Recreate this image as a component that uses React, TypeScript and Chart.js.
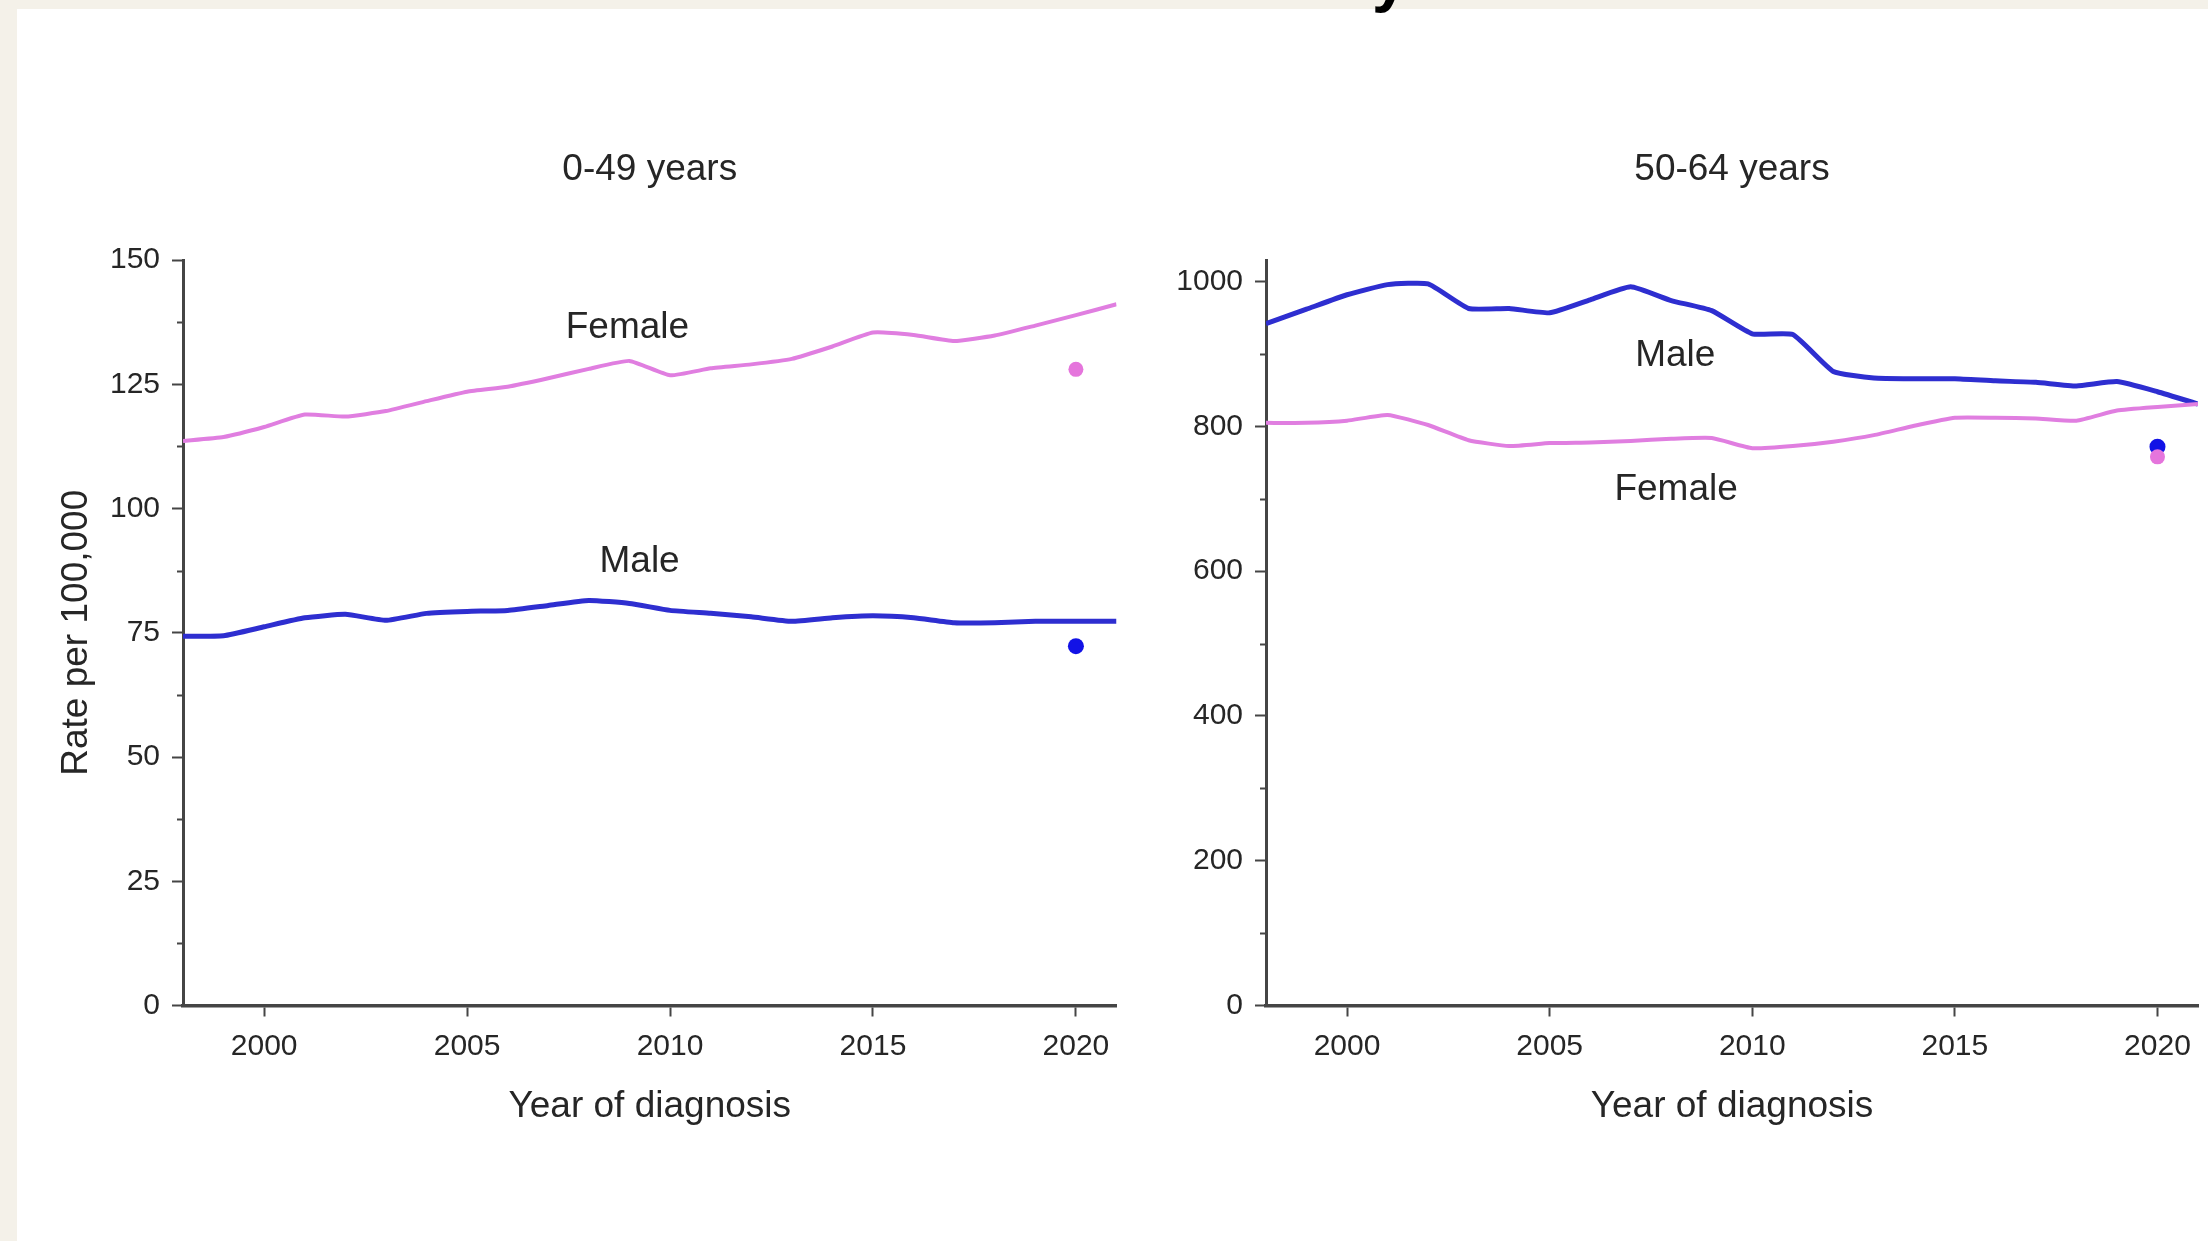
import React, { useEffect, useRef } from 'react';
import { Chart, registerables } from 'chart.js';

Chart.register(...registerables);

// ---------- data ----------
const years = [1998, 1999, 2000, 2001, 2002, 2003, 2004, 2005, 2006, 2007, 2008, 2009, 2010, 2011, 2012, 2013, 2014, 2015, 2016, 2017, 2018, 2019, 2020, 2021];

const female0to49 = [113.6, 114.4, 116.4, 118.9, 118.5, 119.6, 121.6, 123.5, 124.5, 126.2, 128.1, 129.7, 126.8, 128.2, 129.0, 130.1, 132.6, 135.4, 134.9, 133.7, 134.8, 136.8, 138.9, 141.1];
const male0to49 = [74.3, 74.4, 76.2, 78.0, 78.7, 77.5, 78.9, 79.3, 79.5, 80.5, 81.5, 80.9, 79.5, 78.9, 78.2, 77.3, 78.0, 78.4, 78.0, 77.0, 77.0, 77.3, 77.3, 77.3];

const female50to64 = [805, 805, 808, 816, 802, 781, 773, 777, 778, 780, 783, 784, 770, 773, 779, 788, 801, 812, 812, 811, 808, 822, 827, 831];
const male50to64 = [942, 962, 982, 996, 997, 963, 963, 957, 975, 993, 974, 960, 928, 927, 876, 867, 866, 866, 863, 861, 856, 862, 848, 831];

// observed 2020 values (dots)
const observedYear = 2020;
const female0to49Observed = 128.0;
const male0to49Observed = 72.3;
const female50to64Observed = 758;
const male50to64Observed = 772;

// ticks
const xTickValues = [2000, 2005, 2010, 2015, 2020];
const leftYTickValues = [0, 25, 50, 75, 100, 125, 150];
const leftYMinorTicks = [12.5, 37.5, 62.5, 87.5, 112.5, 137.5];
const rightYTickValues = [0, 200, 400, 600, 800, 1000];
const rightYMinorTicks = [100, 300, 500, 700, 900];

const panelTitles = ['0-49 years', '50-64 years'];
const xAxisTitle = 'Year of diagnosis';
const yAxisTitle = 'Rate per 100,000';

// in-chart series labels (anchored in data coordinates)
const leftSeriesLabels = [
  { text: 'Female', x: 2008.95, y: 136.4 },
  { text: 'Male', x: 2009.25, y: 89.3 },
];
const rightSeriesLabels = [
  { text: 'Male', x: 2008.1, y: 897.7 },
  { text: 'Female', x: 2008.12, y: 712 },
];

// ---------- styles ----------
const FONT = '"Liberation Sans", Arial, Helvetica, sans-serif';
const FEMALE_COLOR = '#e07ee0';
const FEMALE_DOT = '#e575dc';
const MALE_COLOR = '#2e2ed0';
const MALE_DOT = '#1212e6';
const AXIS_COLOR = '#454545';
const TEXT_COLOR = '#262626';

const overlayPlugin = {
  id: 'overlay',
  afterDatasetsDraw(chart: any, _args: any, opts: any) {
    const { ctx, chartArea } = chart;
    const x = chart.scales.x;
    const y = chart.scales.y;
    ctx.save();
    ctx.strokeStyle = AXIS_COLOR;
    ctx.lineWidth = 2;
    (opts.minorTicks || []).forEach((v: number) => {
      const py = Math.round(y.getPixelForValue(v)) + 0.5;
      ctx.beginPath();
      ctx.moveTo(chartArea.left - 6, py);
      ctx.lineTo(chartArea.left + 1, py);
      ctx.stroke();
    });
    ctx.fillStyle = TEXT_COLOR;
    ctx.font = `37px ${FONT}`;
    ctx.textAlign = 'center';
    ctx.textBaseline = 'middle';
    (opts.labels || []).forEach((l: any) => {
      ctx.fillText(l.text, x.getPixelForValue(l.x), y.getPixelForValue(l.y));
    });
    ctx.restore();
  },
};

function makeConfig(p: {
  title: string;
  female: number[];
  male: number[];
  femaleObs: number;
  maleObs: number;
  yMax: number;
  yTicks: number[];
  minor: number[];
  labels: any[];
  yAxisWidth: number;
  padRight: number;
  showYTitle: boolean;
}) {
  const lineData = (arr: number[]) => years.map((yr, i) => ({ x: yr, y: arr[i] }));
  return {
    type: 'line' as const,
    data: {
      datasets: [
        {
          label: 'Female',
          data: lineData(p.female),
          borderColor: FEMALE_COLOR,
          borderWidth: 4,
          pointRadius: 0,
          tension: 0.15,
          fill: false,
        },
        {
          label: 'Male',
          data: lineData(p.male),
          borderColor: MALE_COLOR,
          borderWidth: 5,
          pointRadius: 0,
          tension: 0.15,
          fill: false,
        },
        {
          label: 'Female observed 2020',
          data: [{ x: observedYear, y: p.femaleObs }],
          showLine: false,
          pointRadius: 7.5,
          pointBackgroundColor: FEMALE_DOT,
          pointBorderWidth: 0,
          borderColor: FEMALE_DOT,
        },
        {
          label: 'Male observed 2020',
          data: [{ x: observedYear, y: p.maleObs }],
          showLine: false,
          pointRadius: 8,
          pointBackgroundColor: MALE_DOT,
          pointBorderWidth: 0,
          borderColor: MALE_DOT,
        },
      ],
    },
    options: {
      animation: false as const,
      responsive: false,
      devicePixelRatio: 1,
      layout: { padding: { left: 0, right: p.padRight, top: 147.5, bottom: 0 } },
      plugins: {
        legend: { display: false },
        tooltip: { enabled: false },
        title: {
          display: true,
          text: p.title,
          fullSize: false,
          color: TEXT_COLOR,
          font: { family: FONT, size: 37, weight: 'normal' as const },
          padding: { top: 0, bottom: 68.1 },
        },
        overlay: { minorTicks: p.minor, labels: p.labels },
      },
      scales: {
        x: {
          type: 'linear' as const,
          min: 1998,
          max: 2021,
          afterBuildTicks: (axis: any) => {
            axis.ticks = xTickValues.map((v) => ({ value: v }));
          },
          afterFit: (s: any) => {
            s.height = 235.5;
          },
          grid: {
            drawOnChartArea: false,
            drawTicks: true,
            tickLength: 11,
            tickWidth: 2,
            tickColor: AXIS_COLOR,
          },
          border: { display: true, color: AXIS_COLOR, width: 3.5 },
          ticks: {
            color: TEXT_COLOR,
            font: { family: FONT, size: 30 },
            padding: 12,
            maxRotation: 0,
            autoSkip: false,
            callback: (v: any) => String(v),
          },
          title: {
            display: true,
            text: xAxisTitle,
            color: TEXT_COLOR,
            font: { family: FONT, size: 37 },
            padding: { top: 0, bottom: 112 },
          },
        },
        y: {
          type: 'linear' as const,
          min: 0,
          max: p.yMax,
          afterBuildTicks: (axis: any) => {
            axis.ticks = p.yTicks.map((v) => ({ value: v }));
          },
          afterFit: (s: any) => {
            s.width = p.yAxisWidth;
          },
          grid: {
            drawOnChartArea: false,
            drawTicks: true,
            tickLength: 11,
            tickWidth: 2,
            tickColor: AXIS_COLOR,
          },
          border: { display: true, color: AXIS_COLOR, width: 3 },
          ticks: {
            color: TEXT_COLOR,
            font: { family: FONT, size: 30 },
            padding: 12,
            callback: (v: any) => String(v),
          },
          title: {
            display: p.showYTitle,
            text: yAxisTitle,
            color: TEXT_COLOR,
            font: { family: FONT, size: 37 },
            padding: { top: 54.8, bottom: 0 },
          },
        },
      },
    },
    plugins: [overlayPlugin],
  };
}

function Panel(props: { cfg: any; left: number; width: number }) {
  const ref = useRef<HTMLCanvasElement | null>(null);
  useEffect(() => {
    if (!ref.current) return;
    const chart = new Chart(ref.current, props.cfg);
    return () => chart.destroy();
  }, []);
  return (
    <canvas
      ref={ref}
      width={props.width}
      height={1241}
      style={{ position: 'absolute', left: props.left, top: 0, width: props.width, height: 1241, display: 'block' }}
    />
  );
}

export default function App() {
  const leftCfg = makeConfig({
    title: panelTitles[0],
    female: female0to49,
    male: male0to49,
    femaleObs: female0to49Observed,
    maleObs: male0to49Observed,
    yMax: 150,
    yTicks: leftYTickValues,
    minor: leftYMinorTicks,
    labels: leftSeriesLabels,
    yAxisWidth: 183,
    padRight: 23.5,
    showYTitle: true,
  });
  const rightCfg = makeConfig({
    title: panelTitles[1],
    female: female50to64,
    male: male50to64,
    femaleObs: female50to64Observed,
    maleObs: male50to64Observed,
    yMax: 1030,
    yTicks: rightYTickValues,
    minor: rightYMinorTicks,
    labels: rightSeriesLabels,
    yAxisWidth: 116,
    padRight: 10,
    showYTitle: false,
  });
  return (
    <div
      style={{
        position: 'absolute',
        left: 0,
        top: 0,
        width: 2208,
        height: 1241,
        overflow: 'hidden',
        background: '#f4f1e9',
      }}
    >
      <div style={{ position: 'absolute', left: 17, top: 9, right: 0, bottom: 0, background: '#ffffff' }} />
      <div
        style={{
          position: 'absolute',
          left: 1372,
          top: -54,
          fontFamily: FONT,
          fontWeight: 'bold',
          fontSize: 64,
          lineHeight: '64px',
          color: '#000',
        }}
      >
        y
      </div>
      <Panel cfg={leftCfg} left={0} width={1140} />
      <Panel cfg={rightCfg} left={1150} width={1058} />
    </div>
  );
}
